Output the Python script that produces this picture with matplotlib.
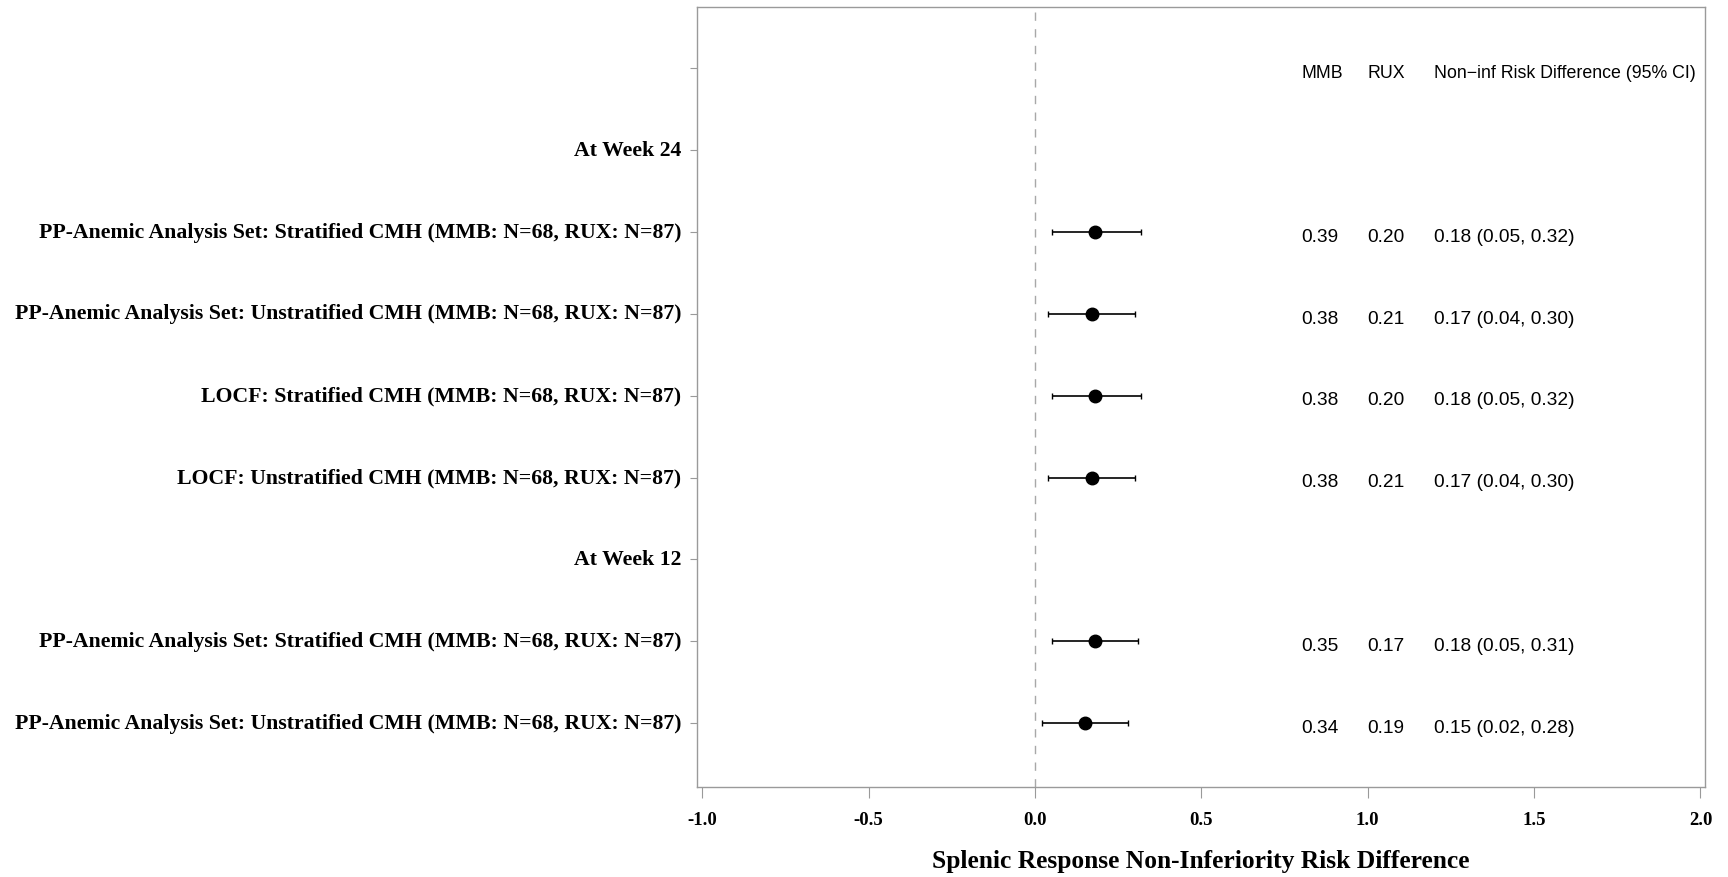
import matplotlib
matplotlib.use("Agg")
import matplotlib.pyplot as plt
import matplotlib.transforms as mtransforms

# ---- data ----
row_labels = [
    "",
    "At Week 24",
    "PP-Anemic Analysis Set: Stratified CMH (MMB: N=68, RUX: N=87)",
    "PP-Anemic Analysis Set: Unstratified CMH (MMB: N=68, RUX: N=87)",
    "LOCF: Stratified CMH (MMB: N=68, RUX: N=87)",
    "LOCF: Unstratified CMH (MMB: N=68, RUX: N=87)",
    "At Week 12",
    "PP-Anemic Analysis Set: Stratified CMH (MMB: N=68, RUX: N=87)",
    "PP-Anemic Analysis Set: Unstratified CMH (MMB: N=68, RUX: N=87)",
]
data_rows = [2, 3, 4, 5, 7, 8]
mmb = [0.39, 0.38, 0.38, 0.38, 0.35, 0.34]
rux = [0.20, 0.21, 0.20, 0.21, 0.17, 0.19]
diff = [0.18, 0.17, 0.18, 0.17, 0.18, 0.15]
lower = [0.05, 0.04, 0.05, 0.04, 0.05, 0.02]
upper = [0.32, 0.30, 0.32, 0.30, 0.31, 0.28]
headers = ["MMB", "RUX", "Non\u2212inf Risk Difference (95% CI)"]
header_x = [0.8, 1.0, 1.2]
xticks = [-1.0, -0.5, 0.0, 0.5, 1.0, 1.5, 2.0]
xlabel = "Splenic Response Non-Inferiority Risk Difference"

# ---- figure ----
W, H = 1728, 878
fig = plt.figure(figsize=(W / 100, H / 100), dpi=100)
ax = fig.add_axes([696.5 / W, 1 - 788 / H, (1704.8 - 696.5) / W, (788 - 7.7) / H])

frame_col = "#9a9a9a"
for s in ax.spines.values():
    s.set_color(frame_col)
    s.set_linewidth(1.0)

ax.axvline(0, color="#a8a8a8", lw=1.0, dashes=(6, 6), zorder=1)

xerr = [[d - l for d, l in zip(diff, lower)], [u - d for d, u in zip(diff, upper)]]
ax.errorbar(diff, data_rows, xerr=xerr, fmt="o", color="black", ms=9,
            elinewidth=1.2, capsize=2.5, capthick=1.0, zorder=3)

txt_font = dict(family="Liberation Sans", color="black")
for hx, h in zip(header_x, headers):
    ax.text(hx, 0.05, h, ha="left", va="center", fontsize=12.8, **txt_font)
for r, a, b, d, l, u in zip(data_rows, mmb, rux, diff, lower, upper):
    ax.text(0.8, r + 0.05, f"{a:.2f}", ha="left", va="center", fontsize=13.8, **txt_font)
    ax.text(1.0, r + 0.05, f"{b:.2f}", ha="left", va="center", fontsize=13.8, **txt_font)
    ax.text(1.2, r + 0.05, f"{d:.2f} ({l:.2f}, {u:.2f})", ha="left", va="center",
            fontsize=13.8, **txt_font)

ax.set_xlim(-1.017, 2.013)
ax.set_ylim(8.781, -0.754)
ax.set_yticks(range(len(row_labels)))
ax.set_yticklabels(row_labels, family="Liberation Serif", fontweight="bold", fontsize=15.7)
ax.set_xticks(xticks)
ax.set_xticklabels([f"{v:.1f}" for v in xticks], family="Liberation Serif",
                   fontweight="bold", fontsize=13.5)
ax.tick_params(axis="y", length=5, color=frame_col, pad=6)
ax.tick_params(axis="x", length=8, color=frame_col, pad=9)
shift = mtransforms.ScaledTranslation(0, 3 / 100, fig.dpi_scale_trans)
for t in ax.get_yticklabels():
    t.set_va("center_baseline")
    t.set_transform(t.get_transform() + shift)

fig.text((696.5 + 1704.8) / 2 / W, 1 - 862 / H, xlabel, ha="center", va="center",
         family="Liberation Serif", fontweight="bold", fontsize=18.4)

fig.savefig("out.png", dpi=100)
